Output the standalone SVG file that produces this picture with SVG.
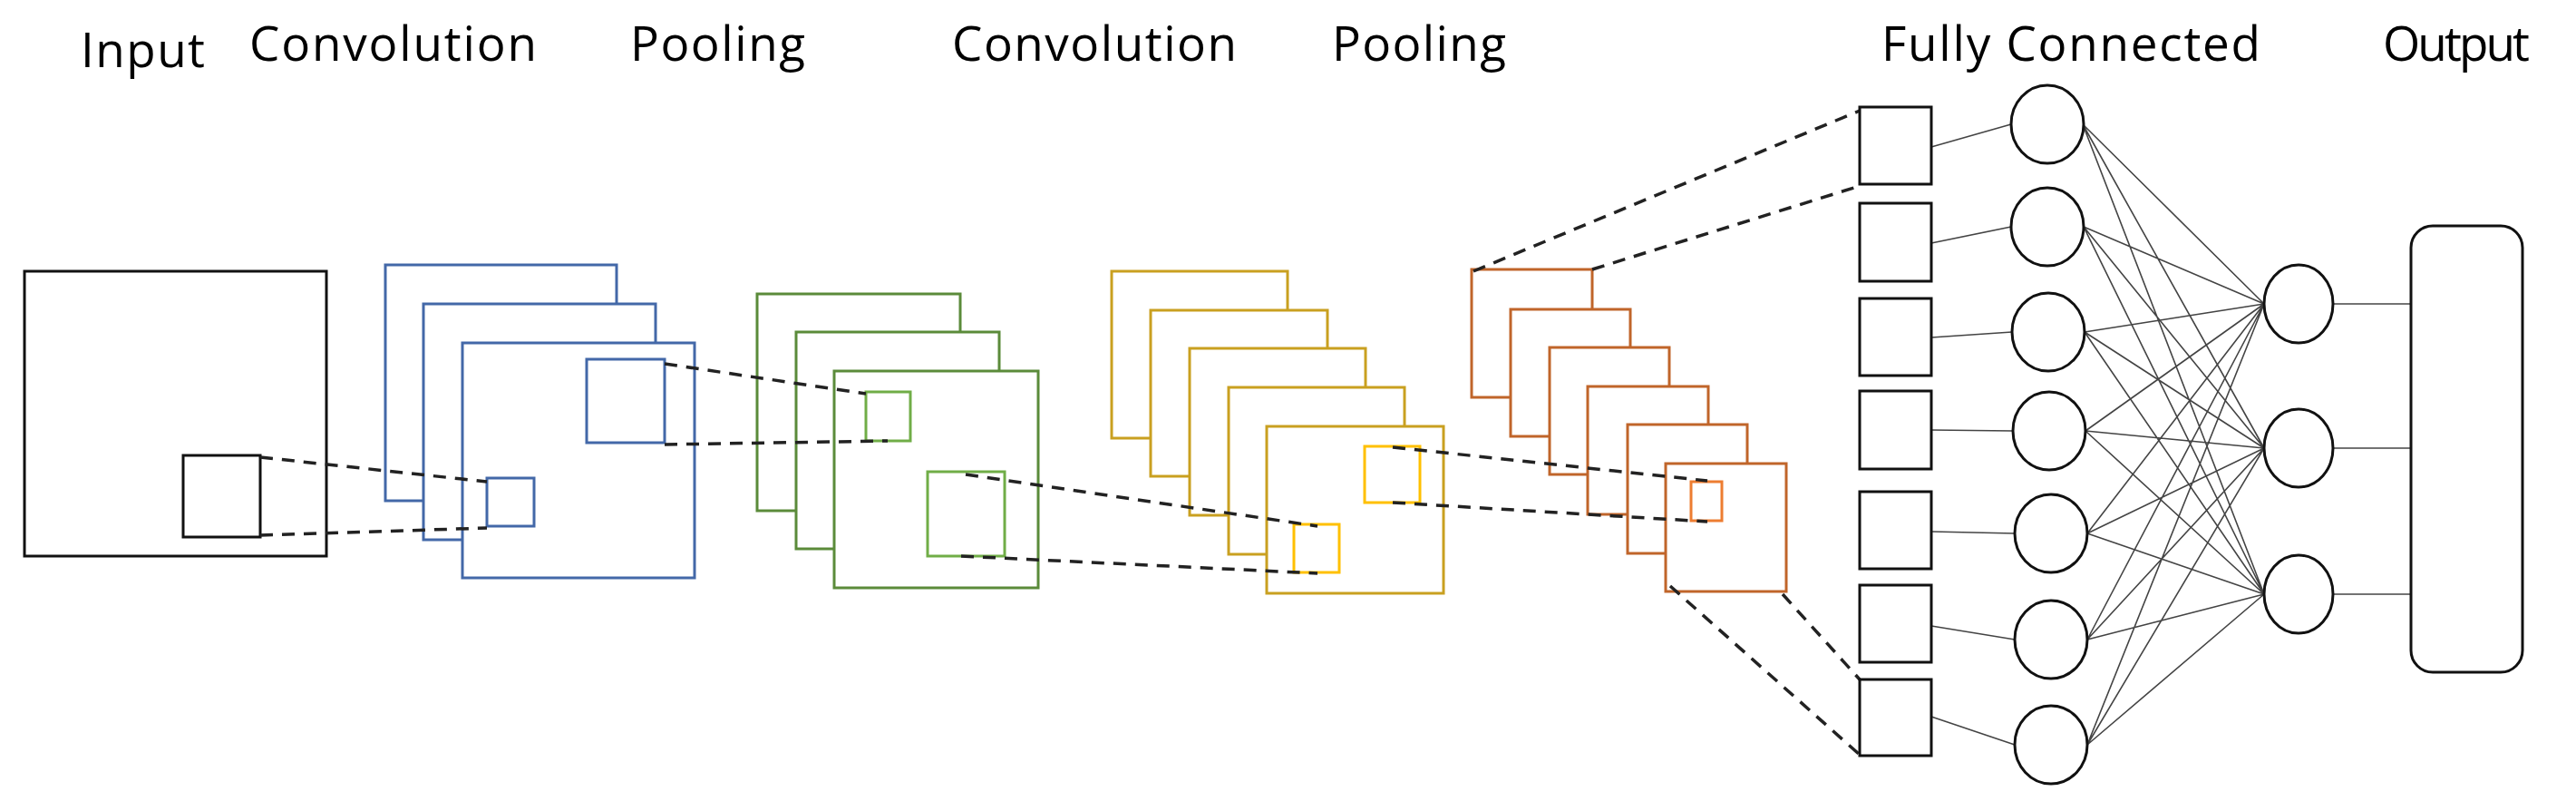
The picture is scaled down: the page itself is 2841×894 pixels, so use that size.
<svg xmlns="http://www.w3.org/2000/svg" width="2841" height="894" viewBox="0 0 2841 894">
<style>
text{font-family:"Open Sans","Liberation Sans",sans-serif;font-size:53px;fill:#000}
rect{fill:#fff;stroke-width:3}
.k{stroke:#111}
.b{stroke:#4368a8}
.g{stroke:#5b8b3a}
.lg{stroke:#70ad47}
.y{stroke:#c9a020}
.ly{stroke:#ffc000}
.o{stroke:#c0652a}
.lo{stroke:#ed7d31}
.d{stroke:#222;stroke-width:3.5;stroke-dasharray:14 10;fill:none}
.n{stroke:#444;stroke-width:1.6;fill:none}
ellipse{fill:#fff;stroke:#111;stroke-width:3}
</style>
<g id="labels">
<text x="89" y="74" textLength="137">Input</text>
<text x="275" y="67" textLength="317">Convolution</text>
<text x="695" y="67" textLength="193">Pooling</text>
<text x="1050" y="67" textLength="314">Convolution</text>
<text x="1469" y="67" textLength="192">Pooling</text>
<text x="2075" y="67" textLength="418">Fully Connected</text>
<text x="2628" y="67" textLength="162">Output</text>
</g>
<g id="input"><rect class="k" x="27" y="299" width="333" height="314"/><rect class="k" x="202" y="502" width="85" height="90"/></g>
<g id="conv1">
<rect class="b" x="425" y="292" width="255" height="260"/>
<rect class="b" x="467" y="335" width="256" height="260"/>
<rect class="b" x="510" y="378" width="256" height="259"/>
<rect class="b" x="537" y="527" width="52" height="53"/>
<rect class="b" x="647" y="396" width="86" height="92"/>
</g>
<g id="pool1">
<rect class="g" x="835" y="324" width="224" height="239"/>
<rect class="g" x="878" y="366" width="224" height="239"/>
<rect class="g" x="920" y="409" width="225" height="239"/>
<rect class="lg" x="955" y="432" width="49" height="54"/>
<rect class="lg" x="1023" y="520" width="85" height="93"/>
</g>
<g id="conv2">
<rect class="y" x="1226" y="299" width="194" height="184"/>
<rect class="y" x="1269" y="342" width="195" height="183"/>
<rect class="y" x="1312" y="384" width="194" height="184"/>
<rect class="y" x="1355" y="427" width="194" height="184"/>
<rect class="y" x="1397" y="470" width="195" height="184"/>
<rect class="ly" x="1427" y="578" width="50" height="53"/>
<rect class="ly" x="1505" y="492" width="61" height="62"/>
</g>
<g id="pool2">
<rect class="o" x="1623" y="297" width="133" height="141"/>
<rect class="o" x="1666" y="341" width="132" height="140"/>
<rect class="o" x="1709" y="383" width="132" height="140"/>
<rect class="o" x="1751" y="426" width="133" height="141"/>
<rect class="o" x="1795" y="468" width="132" height="142"/>
<rect class="o" x="1837" y="511" width="133" height="141"/>
<rect class="lo" x="1865" y="531" width="34" height="43"/>
</g>
<g id="connectors">
<line class="d" x1="287" y1="504" x2="537" y2="531"/>
<line class="d" x1="287" y1="590" x2="537" y2="582"/>
<line class="d" x1="733" y1="401" x2="955" y2="434"/>
<line class="d" x1="733" y1="490" x2="979" y2="486"/>
<line class="d" x1="1065" y1="523" x2="1453" y2="580"/>
<line class="d" x1="1060" y1="613" x2="1453" y2="632"/>
<line class="d" x1="1536" y1="493" x2="1883" y2="530"/>
<line class="d" x1="1536" y1="554" x2="1883" y2="575"/>
<line class="d" x1="1625" y1="299" x2="2051" y2="122"/>
<line class="d" x1="1756" y1="297" x2="2051" y2="205"/>
<line class="d" x1="1842" y1="646" x2="2051" y2="832"/>
<line class="d" x1="1966" y1="655" x2="2051" y2="749"/>
<g class="n">
<line x1="2130" y1="162" x2="2218" y2="137"/>
<line x1="2130" y1="268" x2="2218" y2="250"/>
<line x1="2130" y1="372" x2="2219" y2="366"/>
<line x1="2130" y1="474" x2="2220" y2="475"/>
<line x1="2130" y1="586" x2="2222" y2="588"/>
<line x1="2130" y1="690" x2="2222" y2="705"/>
<line x1="2130" y1="790" x2="2222" y2="821"/>
<line x1="2573" y1="335" x2="2659" y2="335"/>
<line x1="2573" y1="494" x2="2659" y2="494"/>
<line x1="2573" y1="655" x2="2659" y2="655"/>
<path d="M2297 137L2497 335M2297 137L2497 494M2297 137L2497 655M2298 250L2497 335M2298 250L2497 494M2298 250L2497 655M2299 366L2497 335M2299 366L2497 494M2299 366L2497 655M2300 475L2497 335M2300 475L2497 494M2300 475L2497 655M2302 588L2497 335M2302 588L2497 494M2302 588L2497 655M2302 705L2497 335M2302 705L2497 494M2302 705L2497 655M2302 821L2497 335M2302 821L2497 494M2302 821L2497 655"/>
</g>
</g>
<g id="fc-squares">
<rect class="k" x="2051" y="118" width="79" height="85"/>
<rect class="k" x="2051" y="224" width="79" height="86"/>
<rect class="k" x="2051" y="329" width="79" height="85"/>
<rect class="k" x="2051" y="431" width="79" height="86"/>
<rect class="k" x="2051" y="542" width="79" height="85"/>
<rect class="k" x="2051" y="645" width="79" height="85"/>
<rect class="k" x="2051" y="749" width="79" height="84"/>
</g>
<g id="fc-nodes">
<ellipse cx="2258" cy="137" rx="40" ry="43"/>
<ellipse cx="2258" cy="250" rx="40" ry="43"/>
<ellipse cx="2259" cy="366" rx="40" ry="43"/>
<ellipse cx="2260" cy="475" rx="40" ry="43"/>
<ellipse cx="2262" cy="588" rx="40" ry="43"/>
<ellipse cx="2262" cy="705" rx="40" ry="43"/>
<ellipse cx="2262" cy="821" rx="40" ry="43"/>
</g>
<g id="hidden">
<ellipse cx="2535" cy="335" rx="38" ry="43"/>
<ellipse cx="2535" cy="494" rx="38" ry="43"/>
<ellipse cx="2535" cy="655" rx="38" ry="43"/>
</g>
<g id="output"><rect class="k" x="2659" y="249" width="123" height="492" rx="24"/></g>
</svg>
